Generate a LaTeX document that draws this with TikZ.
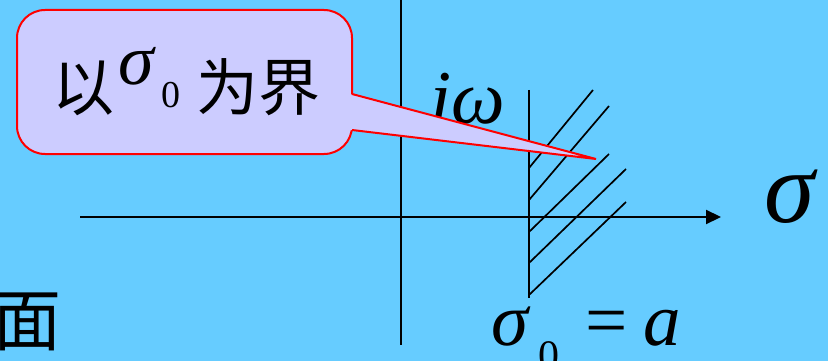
\documentclass[tikz,border=0pt]{standalone}
\usepackage{fontspec}
\setmainfont{Liberation Serif}
\newfontfamily\cjk{Noto Sans CJK SC}
\usetikzlibrary{arrows.meta}
\definecolor{skyfill}{HTML}{66CCFF}
\definecolor{tagfill}{HTML}{CCCCFF}
\tikzset{
  axisline/.style={line width=2.2pt},
  hatch/.style={line width=1.7pt},
  tagbox/.style={draw=red, line width=2pt, fill=tagfill, rounded corners=28pt,
    minimum width=335pt, minimum height=144pt, inner sep=0pt},
  big/.style={inner sep=0pt, font=\fontsize{#1}{#1}\selectfont},
}
\begin{document}
\begin{tikzpicture}[x=1pt,y=-1pt]
  \fill[skyfill] (0,0) rectangle (828,361);
  \useasboundingbox (0,0) rectangle (828,361);
  % axes
  \coordinate (w0) at (80,217);
  \coordinate (w1) at (721,217);
  \coordinate (v0) at (401,0);
  \coordinate (v1) at (401,345);
  \draw[axisline] (v0) -- (v1);
  \draw[axisline,-{Triangle[length=15pt,width=14pt]}] (w0) -- (w1);
  % boundary line and hatching
  \coordinate (b0) at (529,90);
  \coordinate (b1) at (529,298);
  \draw[axisline] (b0) -- (b1);
  \foreach \ya/\xb/\yb in {168/593/90, 200/609/106, 232/609/154, 263/626/169, 295/626/202}
    \draw[hatch] (529,\ya) -- (\xb,\yb);
  % labels
  \node[big=76, anchor=base] (iw) at (468,123) {\itshape iω};
  \node[big=102, anchor=base west] (sig) at (764,222) {\itshape σ};
  \node[big=75, anchor=base west] (bnd) at (491,345)
    {\itshape σ\hspace{10pt}\raisebox{-24pt}{\fontsize{42}{42}\selectfont\upshape 0}\hspace{26pt}{\upshape =}\hspace{16pt}a};
  \node[big=68] (mian) at (28,322) {\cjk 面};
  % callout
  \node[tagbox] (tag) at (184.5,82) {\fontsize{62}{66}\selectfont
    \hspace{4pt}{\cjk 以}\hspace{4pt}\raisebox{26pt}{\fontsize{72}{72}\selectfont\itshape σ}\hspace{8pt}\raisebox{3pt}{\fontsize{38}{38}\selectfont 0}\hspace{16pt}{\cjk 为界}};
  \coordinate (tip) at (596,159);
  \fill[tagfill] (350,94) -- (tip) -- (350,130) -- cycle;
  \draw[red, line width=2pt] (352,94) -- (tip) -- (352,130);
\end{tikzpicture}
\end{document}
